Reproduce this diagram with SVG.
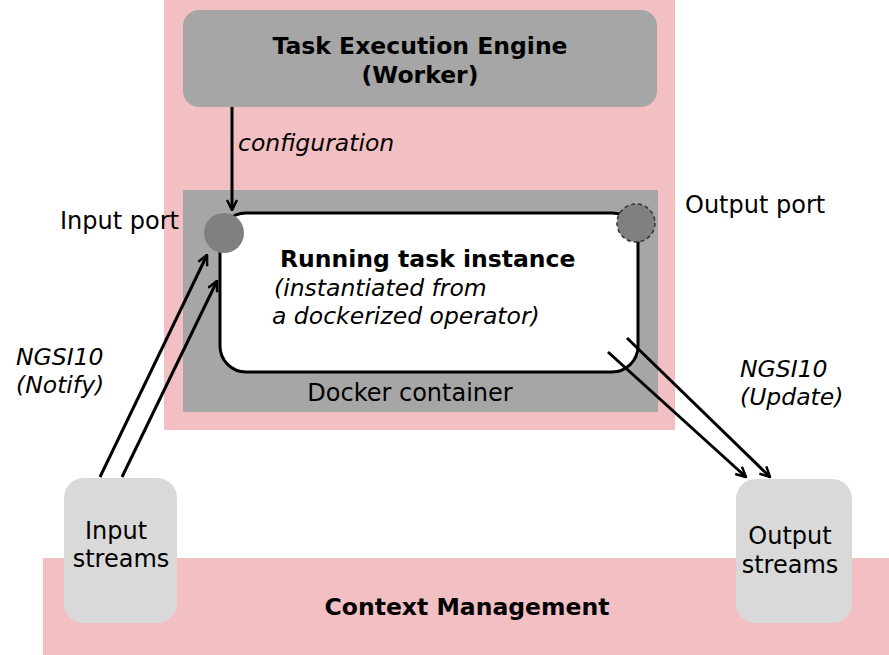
<svg xmlns="http://www.w3.org/2000/svg" width="889" height="655" viewBox="0 0 889 655">
<defs>
<style>
text{font-family:"DejaVu Sans",Verdana,sans-serif;fill:#000;font-size:24px;}
.b{font-weight:bold;font-size:23.5px;}
.i{font-style:italic;font-size:23.5px;}
.c{text-anchor:middle;}
.ln{stroke:#000;stroke-width:3;fill:none;}
</style>
<marker id="ah" viewBox="0 0 12 12" refX="11" refY="6" markerWidth="12" markerHeight="12" markerUnits="userSpaceOnUse" orient="auto">
<path d="M1,1 L11,6 L1,11" fill="none" stroke="#000" stroke-width="2.5"/>
</marker>
</defs>
<rect width="889" height="655" fill="#fff"/>
<g id="worker-area">
<rect x="164" y="0" width="511" height="430" fill="#f2bfc3"/>
</g>
<g id="context-management">
<rect x="43" y="558" width="846" height="97" fill="#f2bfc3"/>
<text class="b c" x="467" y="615">Context Management</text>
</g>
<g id="task-execution-engine">
<rect x="183" y="10" width="474" height="97" rx="16" fill="#a6a6a6"/>
<text class="b c" x="420" y="54">Task Execution Engine</text>
<text class="b c" x="420" y="83">(Worker)</text>
</g>
<g id="docker-container">
<rect x="183" y="190" width="475" height="222" fill="#a6a6a6"/>
<text class="c" x="410" y="401">Docker container</text>
</g>
<g id="running-task">
<rect x="220" y="213" width="418" height="159" rx="26" fill="#fff" stroke="#000" stroke-width="3"/>
<text class="b" x="280" y="267">Running task instance</text>
<text class="i" x="274" y="296">(instantiated from</text>
<text class="i" x="272" y="324">a dockerized operator)</text>
</g>
<g id="input-port">
<circle cx="224" cy="233" r="20" fill="#808080"/>
<text x="60" y="229">Input port</text>
</g>
<g id="output-port">
<circle cx="636" cy="223" r="19" fill="#808080" stroke="#333" stroke-width="1.5" stroke-dasharray="4,3"/>
<text x="685" y="213">Output port</text>
</g>
<g id="input-streams">
<rect x="64" y="478" width="113" height="145" rx="20" fill="#d9d9d9"/>
<text class="c" x="116" y="539">Input</text>
<text class="c" x="121" y="567">streams</text>
</g>
<g id="output-streams">
<rect x="736" y="479" width="116" height="144" rx="20" fill="#d9d9d9"/>
<text class="c" x="790" y="544">Output</text>
<text class="c" x="790" y="573">streams</text>
</g>
<g id="connectors">
<line class="ln" x1="232" y1="107" x2="232" y2="210" marker-end="url(#ah)"/>
<line class="ln" x1="100" y1="477" x2="207" y2="255" marker-end="url(#ah)"/>
<line class="ln" x1="122" y1="477" x2="217" y2="281" marker-end="url(#ah)"/>
<line class="ln" x1="608" y1="352" x2="746" y2="477" marker-end="url(#ah)"/>
<line class="ln" x1="627" y1="338" x2="770" y2="477" marker-end="url(#ah)"/>
</g>
<g id="labels">
<text class="i" x="238" y="151">configuration</text>
<text class="i" x="16" y="365">NGSI10</text>
<text class="i" x="16" y="393">(Notify)</text>
<text class="i" x="740" y="377">NGSI10</text>
<text class="i" x="740" y="405">(Update)</text>
</g>
</svg>
